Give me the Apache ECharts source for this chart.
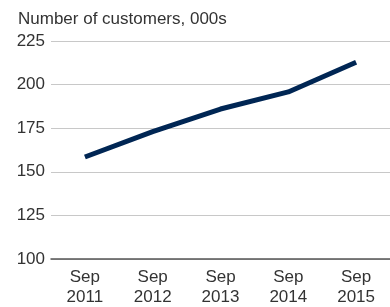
<!DOCTYPE html>
<html>
<head>
<meta charset="utf-8">
<script src="https://cdn.jsdelivr.net/npm/echarts@6/dist/echarts.min.js"></script>
<style>
  html, body { margin: 0; padding: 0; background: #fff; }
  #chart { width: 390px; height: 307px; }
</style>
</head>
<body>
<div id="chart"></div>
<script>
// 数据
var categories = ['Sep\n2011', 'Sep\n2012', 'Sep\n2013', 'Sep\n2014', 'Sep\n2015'];
var customers = [158.5, 173, 186, 195.8, 212.8];
var yTicks = [100, 125, 150, 175, 200, 225];

var chart = echarts.init(document.getElementById('chart'));

var option = {
  animation: false,
  textStyle: {
    fontFamily: 'Liberation Sans, Arial, sans-serif'
  },
  title: {
    text: 'Number of customers, 000s',
    left: 13,
    top: 6,
    textStyle: {
      fontSize: 17,
      fontWeight: 'normal',
      color: '#333'
    }
  },
  grid: {
    left: 51,
    right: -10,
    top: 41,
    bottom: 44,
    containLabel: false
  },
  xAxis: {
    type: 'category',
    data: categories,
    boundaryGap: true,
    axisTick: { show: false },
    axisLine: {
      lineStyle: { color: '#555', width: 1.5 }
    },
    axisLabel: {
      fontSize: 17,
      color: '#333',
      lineHeight: 20,
      margin: 8,
      interval: 0
    }
  },
  yAxis: {
    type: 'value',
    min: yTicks[0],
    max: yTicks[yTicks.length - 1],
    interval: 25,
    axisLine: { show: false },
    axisTick: { show: false },
    axisLabel: {
      fontSize: 17,
      color: '#333',
      margin: 6
    },
    splitLine: {
      lineStyle: { color: '#c8c8c8', width: 1 }
    }
  },
  series: [{
    type: 'line',
    data: customers,
    symbol: 'none',
    lineStyle: {
      color: '#002654',
      width: 5
    }
  }]
};

chart.setOption(option);
</script>
</body>
</html>
